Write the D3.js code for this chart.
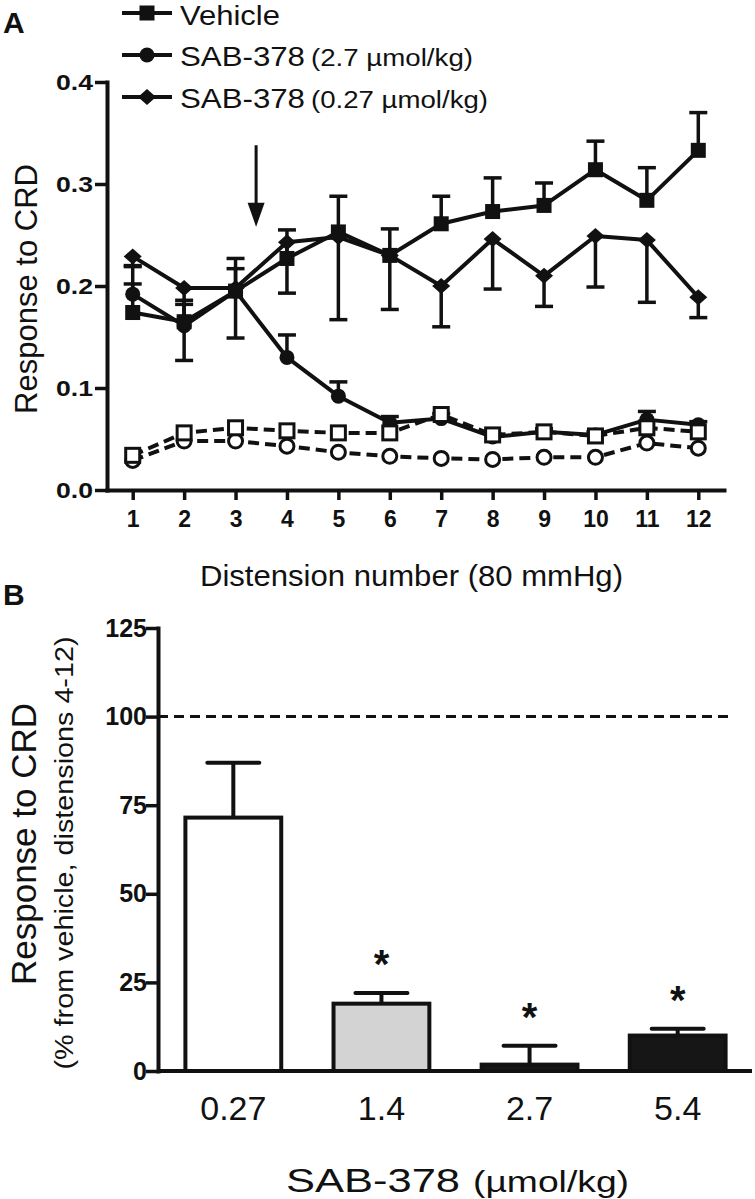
<!DOCTYPE html>
<html><head><meta charset="utf-8">
<script src="https://cdn.jsdelivr.net/npm/d3@7"></script>
<style>
body{margin:0;background:#fff;}
svg{display:block;}
text{font-family:"Liberation Sans",Arial,Helvetica,sans-serif;fill:#111;}
</style>
</head><body>
<svg id="c" width="755" height="1199"></svg>
<script>
// ---------- DATA (panel A) ----------
const distension = [1,2,3,4,5,6,7,8,9,10,11,12];
const vehicle      = [0.174,0.165,0.195,0.227,0.253,0.230,0.261,0.273,0.279,0.314,0.284,0.333];
const vehicleErr   = [0.046,0.021,0.032,0.028,0.035,0.026,0.027,0.033,0.022,0.028,0.032,0.037];
const sab27        = [0.192,0.161,0.195,0.130,0.092,0.066,0.070,0.052,0.057,0.054,0.069,0.064];
const sab27Err     = [0.010,0.021,0.022,0.022,0.014,0.006,0.005,0.003,0.003,0.003,0.008,0.003];
const sab027       = [0.229,0.198,0.198,0.243,0.248,0.230,0.200,0.246,0.210,0.249,0.245,0.189];
const sab027Err    = [0.010,0.071,0.049,0.050,0.081,0.053,0.040,0.049,0.030,0.050,0.061,0.020];
const openSquare   = [0.034,0.056,0.061,0.058,0.056,0.056,0.074,0.054,0.057,0.053,0.061,0.057];
const openCircle   = [0.029,0.048,0.048,0.043,0.037,0.033,0.031,0.030,0.032,0.032,0.046,0.041];
const yTicksA      = [0,0.1,0.2,0.3,0.4];
const arrowX       = 3.4;
const arrowY       = [0.338,0.258];
const legendNames  = ["Vehicle","SAB-378","SAB-378"];
const legendDoses  = ["","(2.7 µmol/kg)","(0.27 µmol/kg)"];

// ---------- DATA (panel B) ----------
const doses        = ["0.27","1.4","2.7","5.4"];
const pctResponse  = [71.5,19.0,1.8,10.0];
const pctErr       = [15.5,3.0,5.3,1.9];
const significant  = [false,true,true,true];
const yTicksB      = [0,25,50,75,100,125];
const vehicleRef   = 100;

const INK = "#111";
const svg = d3.select("#c");

// ================= PANEL A =================
const xA = d3.scaleLinear().domain([0.5,12.5]).range([107,724]);
const yA = d3.scaleLinear().domain([0,0.4]).range([490,82]);

svg.append("text").attr("x",3).attr("y",33).attr("font-size",30).attr("font-weight","bold").text("A");

const gxA = svg.append("g").attr("transform","translate(0,490)")
  .call(d3.axisBottom(xA).tickValues(distension).tickSize(10).tickSizeOuter(0).tickFormat(d3.format("d")));
gxA.select(".domain").attr("stroke",INK).attr("stroke-width",4).attr("stroke-linecap","square");
gxA.selectAll(".tick line").attr("stroke",INK).attr("stroke-width",3.5);
gxA.selectAll(".tick text").attr("y",37).attr("dy",0).attr("font-size",23).attr("font-weight","bold")
  .attr("fill",INK).attr("font-family","'Liberation Sans',Arial,sans-serif");

const gyA = svg.append("g").attr("transform","translate(107,0)")
  .call(d3.axisLeft(yA).tickValues(yTicksA).tickSize(12).tickSizeOuter(0).tickFormat(d3.format(".1f")));
gyA.select(".domain").attr("stroke",INK).attr("stroke-width",4).attr("stroke-linecap","square");
gyA.selectAll(".tick line").attr("stroke",INK).attr("stroke-width",3.5);
gyA.selectAll(".tick text").attr("x",-14).attr("font-size",22).attr("font-weight","bold")
  .attr("fill",INK).attr("font-family","'Liberation Sans',Arial,sans-serif")
  .attr("textLength",37).attr("lengthAdjust","spacingAndGlyphs");

svg.append("text").attr("transform","translate(37,289) rotate(-90)").attr("text-anchor","middle")
  .attr("font-size",31).text("Response to CRD");
svg.append("text").attr("x",200).attr("y",586).attr("font-size",29)
  .attr("textLength",423).attr("lengthAdjust","spacingAndGlyphs").text("Distension number (80 mmHg)");

// error bars
function errBars(g, vals, errs, dir){
  const cap = 9;
  const data = distension.map((d,i)=>({x:d, v:vals[i], e:vals[i]+dir*errs[i]}));
  g.selectAll(null).data(data).enter().append("line")
    .attr("x1",d=>xA(d.x)).attr("x2",d=>xA(d.x)).attr("y1",d=>yA(d.v)).attr("y2",d=>yA(d.e))
    .attr("stroke",INK).attr("stroke-width",3.5);
  g.selectAll(null).data(data).enter().append("line")
    .attr("x1",d=>xA(d.x)-cap).attr("x2",d=>xA(d.x)+cap).attr("y1",d=>yA(d.e)).attr("y2",d=>yA(d.e))
    .attr("stroke",INK).attr("stroke-width",3.5);
}
const gErr = svg.append("g");
errBars(gErr, vehicle, vehicleErr, 1);
errBars(gErr, sab27, sab27Err, 1);
errBars(gErr, sab027, sab027Err, -1);

const lineA = vals => d3.line().x((d,i)=>xA(distension[i])).y(d=>yA(d))(vals);
function series(vals, dashed){
  svg.append("path").attr("d",lineA(vals)).attr("fill","none").attr("stroke",INK)
    .attr("stroke-width",4).attr("stroke-linejoin","round")
    .attr("stroke-dasharray",dashed?"11,6":null);
}
const diamondPath = (cx,cy)=>`M${cx},${cy-8}L${cx+9},${cy}L${cx},${cy+8}L${cx-9},${cy}Z`;
function marker(g, type, cx, cy){
  if(type==="square") g.append("rect").attr("x",cx-7.5).attr("y",cy-7.5).attr("width",15).attr("height",15).attr("fill",INK);
  if(type==="circle") g.append("circle").attr("cx",cx).attr("cy",cy).attr("r",7.5).attr("fill",INK);
  if(type==="diamond") g.append("path").attr("d",diamondPath(cx,cy)).attr("fill",INK);
  if(type==="osquare") g.append("rect").attr("x",cx-7).attr("y",cy-7).attr("width",14).attr("height",14).attr("fill","#fff").attr("stroke",INK).attr("stroke-width",3);
  if(type==="ocircle") g.append("circle").attr("cx",cx).attr("cy",cy).attr("r",7).attr("fill","#fff").attr("stroke",INK).attr("stroke-width",3);
}
function markers(vals,type){
  const g = svg.append("g");
  vals.forEach((v,i)=>marker(g,type,xA(distension[i]),yA(v)));
}
series(sab027,false); markers(sab027,"diamond");
series(sab27,false);  markers(sab27,"circle");
series(vehicle,false); markers(vehicle,"square");
series(openCircle,true); markers(openCircle,"ocircle");
series(openSquare,true); markers(openSquare,"osquare");

// arrow
const ax = xA(arrowX);
svg.append("line").attr("x1",ax).attr("x2",ax).attr("y1",yA(arrowY[0])).attr("y2",yA(arrowY[1])-20)
  .attr("stroke",INK).attr("stroke-width",3);
svg.append("path").attr("d",`M${ax-8.5},${yA(arrowY[1])-24}L${ax+8.5},${yA(arrowY[1])-24}L${ax},${yA(arrowY[1])}Z`).attr("fill",INK);

// legend
const legTypes = ["square","circle","diamond"];
const legY = [13,55,97];
const gLeg = svg.append("g");
legTypes.forEach((t,i)=>{
  gLeg.append("line").attr("x1",122).attr("x2",172).attr("y1",legY[i]).attr("y2",legY[i]).attr("stroke",INK).attr("stroke-width",4);
  marker(gLeg,t,147,legY[i]);
});
gLeg.append("text").attr("x",180).attr("y",25).attr("font-size",27).attr("textLength",100).attr("lengthAdjust","spacingAndGlyphs").text(legendNames[0]);
gLeg.append("text").attr("x",180).attr("y",66).attr("font-size",28).attr("textLength",125).attr("lengthAdjust","spacingAndGlyphs").text(legendNames[1]);
gLeg.append("text").attr("x",311).attr("y",66).attr("font-size",23).attr("textLength",162).attr("lengthAdjust","spacingAndGlyphs").text(legendDoses[1]);
gLeg.append("text").attr("x",180).attr("y",108).attr("font-size",28).attr("textLength",125).attr("lengthAdjust","spacingAndGlyphs").text(legendNames[2]);
gLeg.append("text").attr("x",311).attr("y",108).attr("font-size",23).attr("textLength",177).attr("lengthAdjust","spacingAndGlyphs").text(legendDoses[2]);

// ================= PANEL B =================
const xB = d3.scaleBand().domain(doses).range([158,753]).paddingInner(0.353).paddingOuter(0.185);
const yB = d3.scaleLinear().domain([0,125]).range([1071,628]);

svg.append("text").attr("x",3).attr("y",605).attr("font-size",30).attr("font-weight","bold").text("B");

// reference line
svg.append("line").attr("x1",158).attr("x2",733).attr("y1",yB(vehicleRef)).attr("y2",yB(vehicleRef))
  .attr("stroke",INK).attr("stroke-width",3).attr("stroke-dasharray","10,6");

const fills = ["#ffffff","#d3d3d3","#161616","#161616"];
const gBars = svg.append("g");
doses.forEach((d,i)=>{
  const x0 = xB(d), bw = xB.bandwidth(), cx = x0+bw/2;
  const top = yB(pctResponse[i]), capY = yB(pctResponse[i]+pctErr[i]);
  gBars.append("line").attr("x1",cx).attr("x2",cx).attr("y1",top).attr("y2",capY).attr("stroke",INK).attr("stroke-width",4);
  gBars.append("line").attr("x1",cx-26).attr("x2",cx+26).attr("y1",capY).attr("y2",capY).attr("stroke",INK).attr("stroke-width",4).attr("stroke-linecap","round");
  gBars.append("rect").attr("x",x0).attr("y",top).attr("width",bw).attr("height",yB(0)-top)
    .attr("fill",fills[i]).attr("stroke",INK).attr("stroke-width",4);
  if(significant[i]){
    gBars.append("text").attr("x",cx).attr("y",capY-15).attr("text-anchor","middle")
      .attr("font-size",40).attr("font-weight","bold").text("*");
  }
});

const gxB = svg.append("g").attr("transform","translate(0,1071)")
  .call(d3.axisBottom(xB).tickSize(0).tickSizeOuter(0));
gxB.select(".domain").attr("stroke",INK).attr("stroke-width",4).attr("d","M158,0H752");
gxB.selectAll(".tick text").attr("y",49).attr("dy",0).attr("font-size",34).attr("fill",INK)
  .attr("font-family","'Liberation Sans',Arial,sans-serif");

const gyB = svg.append("g").attr("transform","translate(158,0)")
  .call(d3.axisLeft(yB).tickValues(yTicksB).tickSize(12).tickSizeOuter(0));
gyB.select(".domain").attr("stroke",INK).attr("stroke-width",4).attr("stroke-linecap","square");
gyB.selectAll(".tick line").attr("stroke",INK).attr("stroke-width",3.5);
gyB.selectAll(".tick text").attr("x",-11).attr("font-size",25).attr("font-weight","bold")
  .attr("fill",INK).attr("font-family","'Liberation Sans',Arial,sans-serif");

svg.append("text").attr("transform","translate(36,844) rotate(-90)").attr("text-anchor","middle")
  .attr("font-size",35).text("Response to CRD");
svg.append("text").attr("transform","translate(73,853) rotate(-90)").attr("text-anchor","middle")
  .attr("font-size",25).attr("textLength",433).attr("lengthAdjust","spacingAndGlyphs")
  .text("(% from vehicle, distensions 4-12)");

svg.append("text").attr("x",286).attr("y",1192).attr("font-size",34).attr("textLength",174).attr("lengthAdjust","spacingAndGlyphs").text("SAB-378");
svg.append("text").attr("x",473).attr("y",1192).attr("font-size",30).attr("textLength",156).attr("lengthAdjust","spacingAndGlyphs").text("(µmol/kg)");
</script>
</body></html>
